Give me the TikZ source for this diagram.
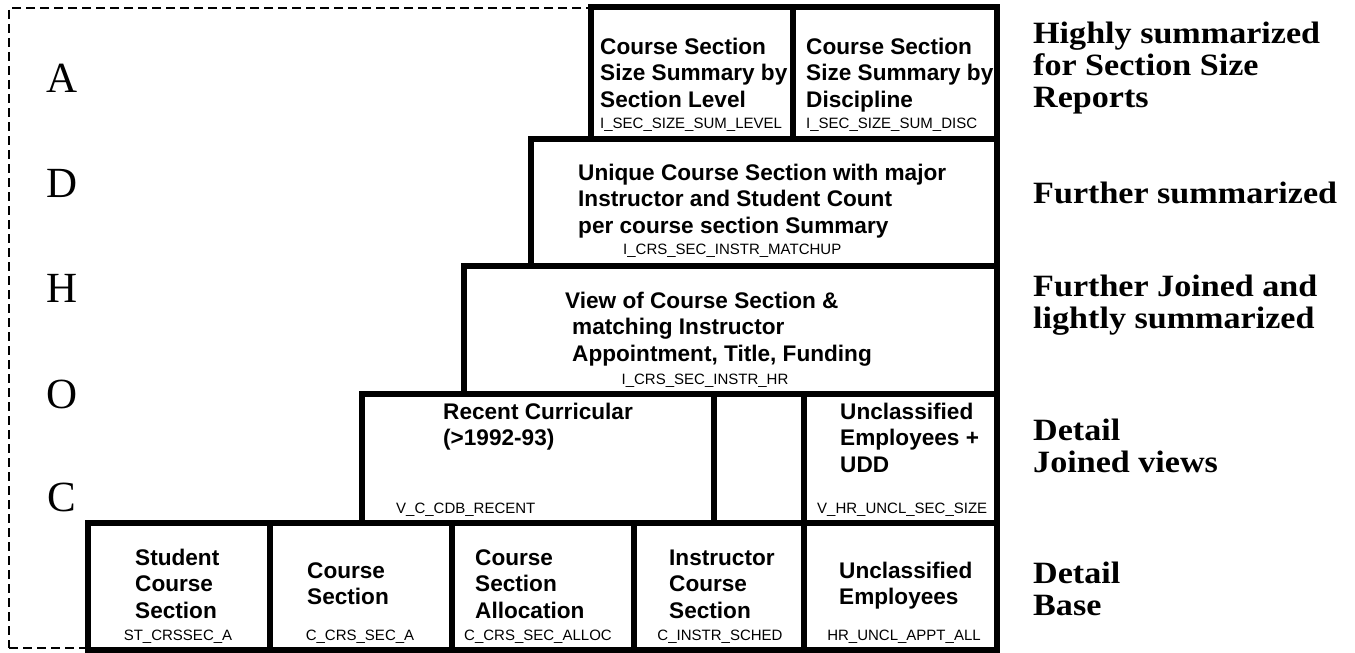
\documentclass[tikz,border=0pt]{standalone}
\usepackage{fontspec}
\setmainfont{Liberation Serif}
\newfontfamily\arialf{Liberation Sans}
\newfontfamily\timesw[FakeStretch=1.1]{Liberation Serif}
\begin{document}
\begin{tikzpicture}[x=1pt,y=-1pt,
  frame/.style={draw, line width=2pt, dash pattern=on 9pt off 5pt, inner sep=0pt},
  tbox/.style={draw, line width=6pt, inner sep=0pt, fill=white},
  head/.style={anchor=north west, inner sep=0pt, align=left, font=\arialf\bfseries\fontsize{22.6}{26.5}\selectfont},
  code/.style={anchor=base, inner sep=0pt, font=\arialf\fontsize{15}{18}\selectfont},
  codel/.style={anchor=base west, inner sep=0pt, font=\arialf\fontsize{15}{18}\selectfont},
  level/.style={anchor=north west, inner sep=0pt, align=left, font=\timesw\bfseries\fontsize{31}{32}\selectfont},
  letter/.style={anchor=base, inner sep=0pt, font=\fontsize{43}{46}\selectfont}]
\useasboundingbox (0,0) rectangle (1355,653);
% dashed frame
\node[frame, minimum width=988pt, minimum height=640pt] (frame) at (503,328) {};
% row 1
\node[tbox, minimum width=202pt, minimum height=132pt] (r1a) at (692,73) {};
\node[tbox, minimum width=204pt, minimum height=132pt] (r1b) at (895,73) {};
% row 2
\node[tbox, minimum width=466pt, minimum height=127pt] (r2) at (764,202.5) {};
% row 3
\node[tbox, minimum width=533pt, minimum height=128pt] (r3) at (730.5,330) {};
% row 4
\node[tbox, minimum width=352pt, minimum height=129pt] (r4a) at (538,458.5) {};
\node[tbox, minimum width=90pt, minimum height=129pt] (r4b) at (759,458.5) {};
\node[tbox, minimum width=193pt, minimum height=129pt] (r4c) at (900.5,458.5) {};
% row 5
\node[tbox, minimum width=182pt, minimum height=127pt] (r5a) at (179,586.5) {};
\node[tbox, minimum width=182pt, minimum height=127pt] (r5b) at (361,586.5) {};
\node[tbox, minimum width=182pt, minimum height=127pt] (r5c) at (543,586.5) {};
\node[tbox, minimum width=170pt, minimum height=127pt] (r5d) at (719,586.5) {};
\node[tbox, minimum width=193pt, minimum height=127pt] (r5e) at (900.5,586.5) {};
% texts row 1
\node[head] (t1a) at (600,35.5) {\strut Course Section\\Size Summary by\\Section Level};
\node[codel] (c1a) at (600,128) {I\_SEC\_SIZE\_SUM\_LEVEL};
\node[head] (t1b) at (806,35.5) {\strut Course Section\\Size Summary by\\Discipline};
\node[codel] (c1b) at (806,128) {I\_SEC\_SIZE\_SUM\_DISC};
% row 2
\node[head] (t2) at (578,161.5) {\strut Unique Course Section with major\\Instructor and Student Count\\per course section Summary};
\node[codel] (c2) at (623,254) {I\_CRS\_SEC\_INSTR\_MATCHUP};
% row 3
\node[head] (t3) at (565,289.5) {\strut View of Course Section \&\\\hspace*{7pt}matching Instructor\\\hspace*{7pt}Appointment, Title, Funding};
\node[code] (c3) at (705,384) {I\_CRS\_SEC\_INSTR\_HR};
% row 4
\node[head] (t4a) at (443,400.5) {\strut Recent Curricular\\(>1992-93)};
\node[codel] (c4a) at (396,513) {V\_C\_CDB\_RECENT};
\node[head] (t4c) at (840,400.5) {\strut Unclassified\\Employees +\\UDD};
\node[codel] (c4c) at (817,513) {V\_HR\_UNCL\_SEC\_SIZE};
% row 5
\node[head] (t5a) at (135,546.5) {\strut Student\\Course\\Section};
\node[code] (c5a) at (178,640) {ST\_CRSSEC\_A};
\node[head] (t5b) at (307,559.5) {\strut Course\\Section};
\node[code] (c5b) at (360,640) {C\_CRS\_SEC\_A};
\node[head] (t5c) at (475,546.5) {\strut Course\\Section\\Allocation};
\node[code] (c5c) at (538,640) {C\_CRS\_SEC\_ALLOC};
\node[head] (t5d) at (669,546.5) {\strut Instructor\\Course\\Section};
\node[code] (c5d) at (720,640) {C\_INSTR\_SCHED};
\node[head] (t5e) at (839,559.5) {\strut Unclassified\\Employees};
\node[code] (c5e) at (904,640) {HR\_UNCL\_APPT\_ALL};
% level labels
\node[level] (l1) at (1033,20.6) {\strut Highly summarized\\for Section Size\\Reports};
\node[level] (l2) at (1033,180.6) {\strut Further summarized};
\node[level] (l3) at (1033,273.6) {\strut Further Joined and\\lightly summarized};
\node[level] (l4) at (1033,417.6) {\strut Detail\\Joined views};
\node[level] (l5) at (1033,560.6) {\strut Detail\\Base};
% letters
\node[letter] (la) at (62,92) {A};
\node[letter] (ld) at (62,197) {D};
\node[letter] (lh) at (62,302) {H};
\node[letter] (lo) at (62,408) {O};
\node[letter] (lc) at (62,511) {C};
\end{tikzpicture}
\end{document}
